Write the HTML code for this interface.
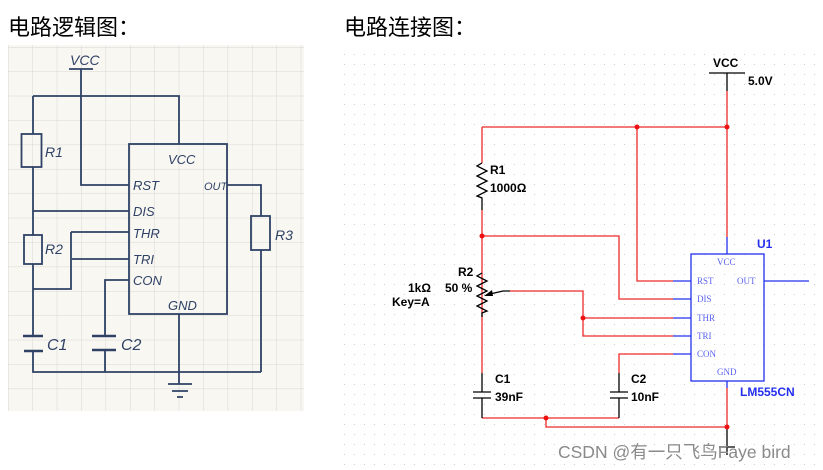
<!DOCTYPE html>
<html><head><meta charset="utf-8"><style>
html,body{margin:0;padding:0;background:#fff;width:823px;height:470px;overflow:hidden}
svg{display:block}
</style></head><body>
<svg width="823" height="470" xmlns="http://www.w3.org/2000/svg">
<defs>
<pattern id="g" x="8" y="47" width="24.4" height="24.4" patternUnits="userSpaceOnUse">
<path d="M0 0H24.4M0 0V24.4" stroke="#d9d7d2" stroke-width="1" fill="none"/>
</pattern>
<pattern id="d" x="0" y="0" width="10" height="10" patternUnits="userSpaceOnUse">
<rect x="4" y="4" width="1" height="1" fill="#cfcfcf"/>
</pattern>
</defs>
<text x="8" y="35" font-family="'Noto Sans CJK SC',sans-serif" font-size="22" fill="#000">电路逻辑图：</text>
<text x="344" y="35" font-family="'Noto Sans CJK SC',sans-serif" font-size="22" fill="#000">电路连接图：</text>

<rect x="8" y="45" width="296" height="366" fill="#f9f7f2"/>
<rect x="8" y="45" width="296" height="366" fill="url(#g)"/>
<g stroke="#2f4266" stroke-width="1.8" fill="none">
<path d="M69 69H93M81 69V185H129"/>
<path d="M33 96H179V144"/>
<rect x="129" y="144" width="98" height="170"/>
<path d="M33 96V134M33 167V235M33 264V336"/>
<rect x="21.5" y="134" width="20" height="33" fill="none"/>
<rect x="24" y="235" width="18" height="29"/>
<path d="M33 211H129M71 232H129M71 232V289H33M72 259H129M129 280H105V336"/>
<path d="M23 336H43M24 351H43M92 336H116M92 350H116" stroke-width="2.5"/>
<path d="M33 351V372H261M105 350V372M179 314V384M168 384H192M172 391H188M177 397H183"/>
<path d="M227 185H261V216M261 250V372"/>
<rect x="251" y="216" width="19" height="34"/>
</g>
<g font-family="'Liberation Sans',sans-serif" font-size="13" fill="#2f4266" font-style="italic">
<text x="70" y="65" font-size="14">VCC</text>
<text x="168" y="164">VCC</text>
<text x="133" y="190">RST</text>
<text x="204" y="190" font-size="11">OUT</text>
<text x="133" y="216">DIS</text>
<text x="133" y="238">THR</text>
<text x="133" y="264">TRI</text>
<text x="133" y="285">CON</text>
<text x="168" y="310">GND</text>
<text x="45" y="157" font-size="14">R1</text>
<text x="45" y="254" font-size="14">R2</text>
<text x="275" y="240" font-size="14">R3</text>
<text x="47" y="350" font-size="16">C1</text>
<text x="121" y="350" font-size="16">C2</text>
</g>

<rect x="335" y="45" width="488" height="425" fill="url(#d)"/>
<g fill="none" stroke-width="1.3">
<path d="M709 73H745M727 73V91" stroke="#000"/>
<g stroke="#ee2a2a">
<path d="M727 91V237M482 127H727M482 127V163M482 210V317M482 236H619V299H673M637 127V281H673"/>
<path d="M510 291H583V336H673M583 318H673M482 317V373M482 418H619M619 373V354H673M546 418V427H727M727 388V427"/>
</g>
<g stroke="#000">
<path d="M482 163l-5 3 10 5-10 5 10 5-10 5 10 5-10 5 5 2V210"/>
<path d="M482 273l-5 3 10 5-10 5 10 5-10 5 10 5-10 5 10 5-5 2V317"/>
<path d="M490 294L503 291H510"/>
<path d="M482 373V392M473 392H491M473 398H491M482 398V418M619 373V392M610 392H628M610 398H628M619 398V418M727 427V455M719 447H735"/>
</g>
<path d="M484 296l8 -6l1 6z" fill="#000" stroke="none"/>
<g stroke="#2430ee">
<path d="M727 237V254M727 381V388M764 281H809M673 281H691M673 299H691M673 318H691M673 336H691M673 354H691"/>
<rect x="691" y="254" width="73" height="127"/>
</g>
</g>
<g fill="#ee1111">
<circle cx="637" cy="127" r="2.5"/><circle cx="727" cy="127" r="2.5"/><circle cx="482" cy="236" r="2.5"/>
<circle cx="583" cy="318" r="2.5"/><circle cx="546" cy="418" r="2.5"/><circle cx="727" cy="427" r="2.5"/>
</g>
<g font-family="'Liberation Sans',sans-serif" font-size="12" font-weight="bold" fill="#000">
<text x="713" y="67">VCC</text>
<text x="748" y="85">5.0V</text>
<text x="490" y="174">R1</text>
<text x="490" y="192">1000Ω</text>
<text x="458" y="276">R2</text>
<text x="445" y="292">50 %</text>
<text x="408" y="292">1kΩ</text>
<text x="392" y="306">Key=A</text>
<text x="495" y="383">C1</text>
<text x="495" y="401">39nF</text>
<text x="631" y="383">C2</text>
<text x="631" y="401">10nF</text>
<text x="757" y="248" fill="#2430ee">U1</text>
<text x="740" y="396" fill="#2430ee">LM555CN</text>
</g>
<g font-family="'Liberation Serif',serif" font-size="9" fill="#5a62ee">
<text x="717" y="265">VCC</text>
<text x="697" y="284">RST</text>
<text x="737" y="284">OUT</text>
<text x="697" y="302">DIS</text>
<text x="697" y="321">THR</text>
<text x="697" y="339">TRI</text>
<text x="697" y="357">CON</text>
<text x="717" y="375">GND</text>
</g>
<text x="558" y="458" font-family="'Liberation Sans','Noto Sans CJK SC',sans-serif" font-size="17.5" fill="#8a8a8a">CSDN @有一只飞鸟Faye bird</text>
</svg>
</body></html>
